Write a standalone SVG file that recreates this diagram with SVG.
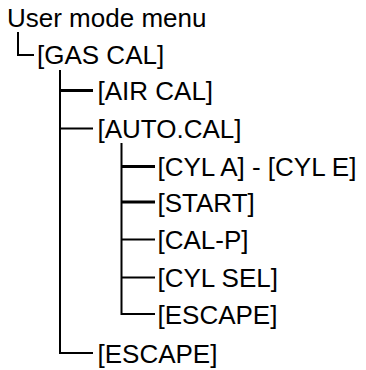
<svg xmlns="http://www.w3.org/2000/svg" width="366" height="370" viewBox="0 0 366 370">
  <style>
    text { font-family: "Liberation Sans", Arial, sans-serif; font-size: 26px; fill: #000; }
    .c { stroke: #000; fill: none; stroke-width: 2; }
    .t { stroke-width: 3; }
  </style>
  <rect width="366" height="370" fill="#fff"/>
  <g id="connectors">
    <path class="c" d="M18 32 V55 H34" stroke-width="1.6"/>
    <path class="c" d="M60 70 V353 H93"/>
    <path class="c t" d="M60 90.5 H93"/>
    <path class="c" d="M60 128.5 H93"/>
    <path class="c" d="M121.5 143 V314 H155"/>
    <path class="c t" d="M121.5 166.5 H155"/>
    <path class="c t" d="M121.5 202 H155"/>
    <path class="c" d="M121.5 239.5 H155"/>
    <path class="c" d="M121.5 277.5 H155"/>
  </g>
  <g id="user-mode-menu"><text x="7" y="27">User mode menu</text></g>
  <g id="gas-cal"><text x="37" y="64">[GAS CAL]</text></g>
  <g id="air-cal"><text x="97.5" y="100">[AIR CAL]</text></g>
  <g id="auto-cal"><text x="97.5" y="138">[AUTO.CAL]</text></g>
  <g id="cyl-a-e"><text x="157.5" y="176">[CYL A] - [CYL E]</text></g>
  <g id="start"><text x="157.5" y="211.5">[START]</text></g>
  <g id="cal-p"><text x="157.5" y="249">[CAL-P]</text></g>
  <g id="cyl-sel"><text x="157.5" y="287">[CYL SEL]</text></g>
  <g id="escape-auto"><text x="157.5" y="323.5">[ESCAPE]</text></g>
  <g id="escape-gas"><text x="97.5" y="362.5">[ESCAPE]</text></g>
</svg>
